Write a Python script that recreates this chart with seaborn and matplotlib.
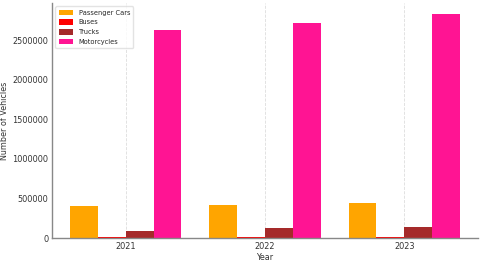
import pandas as pd
import matplotlib
matplotlib.use('Agg')
import matplotlib.pyplot as plt
import seaborn as sns

# 資料
years = ['2021', '2022', '2023']
vehicle_types = ['Passenger Cars', 'Buses', 'Trucks', 'Motorcycles']
passenger_cars = [404000, 417000, 440000]
buses = [15000, 16000, 17000]
trucks = [88000, 126000, 135000]
motorcycles = [2626000, 2715000, 2830000]
colors = ['orange', 'red', 'brown', 'deeppink']

df = pd.DataFrame({
    'Year': years * 4,
    'Type': [t for t in vehicle_types for _ in years],
    'Count': passenger_cars + buses + trucks + motorcycles,
})

sns.set_style('white')
plt.rcParams['font.family'] = ['DejaVu Sans']

fig = plt.figure(figsize=(4.8, 2.61), dpi=100)
ax = fig.add_axes([0.108, 0.088, 0.888, 0.901])

sns.barplot(data=df, x='Year', y='Count', hue='Type', hue_order=vehicle_types,
            palette=colors, width=0.8, linewidth=0, saturation=1, ax=ax)

ax.set_xlim(-0.53, 2.53)
ax.set_ylim(0, 2830000 * 1.05)
ax.ticklabel_format(axis='y', style='plain')
ax.xaxis.grid(True, linestyle='--', color='#dddddd', linewidth=0.6)
ax.yaxis.grid(False)
ax.set_axisbelow(True)

for s in ['top', 'right']:
    ax.spines[s].set_visible(False)
for s in ['left', 'bottom']:
    ax.spines[s].set_color('#888888')
    ax.spines[s].set_linewidth(1.0)

ax.tick_params(axis='both', labelsize=5.9, length=0, labelcolor='#333333', pad=2.5)
ax.set_xlabel('Year', fontsize=5.8, color='#333333', labelpad=1.5)
ax.set_ylabel('Number of Vehicles', fontsize=5.8, color='#333333', labelpad=2.5)

ax.legend(loc='upper left', fontsize=4.8, frameon=True, handlelength=2.2,
          handleheight=0.9, borderpad=0.5, labelspacing=0.55, edgecolor='#dddddd')

fig.savefig('out.png', dpi=100)
